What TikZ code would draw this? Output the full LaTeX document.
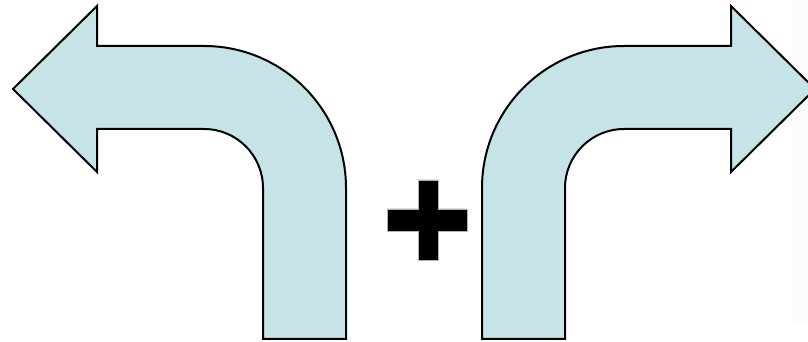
\documentclass[tikz,border=0pt]{standalone}
\usepackage{tikz}
\definecolor{paleblue}{RGB}{198,228,232}

\begin{document}
\begin{tikzpicture}[x=1pt,y=1pt]
    \useasboundingbox (0,0) rectangle (808,342);
    \fill[gray!2] (792,20) rectangle (808,342);
    % left turn
    \coordinate (ltip) at (13,253);
    \coordinate (lbend) at (204,296);
    \coordinate (lfoot) at (346,3);
    \filldraw[fill=paleblue, draw=black, line width=2pt]
        (ltip) -- (97,336) -- (97,296) -- (lbend)
        arc[start angle=90, end angle=0, radius=142] -- (lfoot) -- (263,3) -- (263,154)
        arc[start angle=0, end angle=90, radius=59] -- (97,213) -- (97,170) -- cycle;
    % right turn
    \coordinate (rtip) at (815,253);
    \coordinate (rbend) at (624,296);
    \coordinate (rfoot) at (482,3);
    \filldraw[fill=paleblue, draw=black, line width=2pt]
        (rtip) -- (731,336) -- (731,296) -- (rbend)
        arc[start angle=90, end angle=180, radius=142] -- (rfoot) -- (565,3) -- (565,154)
        arc[start angle=180, end angle=90, radius=59] -- (731,213) -- (731,170) -- cycle;
    % plus
    \filldraw[black, draw=gray!60, thin]
        (418,82) -- (438,82) -- (438,111) -- (467,111) -- (467,133) -- (438,133)
        -- (438,162) -- (418,162) -- (418,133) -- (387,133) -- (387,111) -- (418,111) -- cycle;
\end{tikzpicture}
\end{document}
